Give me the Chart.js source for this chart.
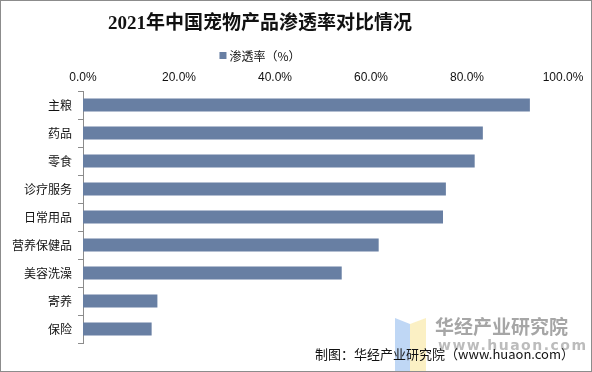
<!DOCTYPE html>
<html>
<head>
<meta charset="utf-8">
<style>
    html, body { margin: 0; padding: 0; background: #fff; }
    #wrap { width: 592px; height: 372px; position: relative; }
</style>
<script src="https://cdn.jsdelivr.net/npm/chart.js@4/dist/chart.umd.min.js"></script>
</head>
<body>
<div id="wrap"><canvas id="penetrationChart" width="592" height="372"></canvas></div>
<script>
// Chart data
const categories = ['主粮', '药品', '零食', '诊疗服务', '日常用品', '营养保健品', '美容洗澡', '寄养', '保险'];
const penetration = [93.1, 83.3, 81.6, 75.6, 75.0, 61.6, 53.9, 15.5, 14.3];
const xTicks = [0, 20, 40, 60, 80, 100];

const titleText = '2021年中国宠物产品渗透率对比情况';
const seriesLabel = '渗透率（%）';
const sourceText = '制图：华经产业研究院（www.huaon.com）';

const barColor = '#687fa3';
const cjkFont = '"Noto Sans CJK SC", "Liberation Sans", sans-serif';

// Title, legend, source, watermark and frame drawn onto the canvas
const decorPlugin = {
    id: 'decor',
    afterDatasetsDraw(chart) {
        const ctx = chart.ctx;
        ctx.save();

        // watermark logo
        ctx.globalAlpha = 0.75;
        ctx.fillStyle = '#a9c9f2';
        ctx.beginPath();
        ctx.moveTo(395, 318); ctx.lineTo(410, 324); ctx.lineTo(410, 372); ctx.lineTo(395, 372);
        ctx.closePath(); ctx.fill();
        ctx.fillStyle = '#f9ebb0';
        ctx.beginPath();
        ctx.moveTo(410, 324); ctx.lineTo(426, 318); ctx.lineTo(426, 372); ctx.lineTo(410, 372);
        ctx.closePath(); ctx.fill();

        // watermark text
        ctx.globalAlpha = 1;
        ctx.fillStyle = '#a6a6a6';
        ctx.textAlign = 'left';
        ctx.textBaseline = 'middle';
        ctx.font = 'bold 19px ' + cjkFont;
        ctx.fillText('华经产业研究院', 435, 327);
        ctx.font = 'bold 14px "DejaVu Sans", sans-serif';
        ctx.fillStyle = '#bcbcbc';
        ctx.letterSpacing = '1.5px';
        ctx.fillText('www.huaon.com', 438, 346);
        ctx.letterSpacing = '0px';

        // source
        ctx.fillStyle = '#111';
        ctx.font = '13px ' + cjkFont;
        ctx.textAlign = 'right';
        ctx.fillText(sourceText, 574, 354);

        // title
        ctx.textAlign = 'center';
        ctx.font = 'bold 19px "Liberation Serif", "Noto Sans CJK SC", serif';
        ctx.fillStyle = '#111';
        ctx.fillText(titleText, 260, 24);

        // legend
        ctx.font = '12px ' + cjkFont;
        ctx.textAlign = 'left';
        const w = ctx.measureText(seriesLabel).width;
        const lx = 260 - (w + 10) / 2;
        ctx.fillStyle = chart.data.datasets[0].backgroundColor;
        ctx.fillRect(lx, 52, 7, 7);
        ctx.fillStyle = '#111';
        ctx.fillText(seriesLabel, lx + 10, 56);

        // frame
        ctx.strokeStyle = '#8c8c8c';
        ctx.lineWidth = 1;
        ctx.strokeRect(0.5, 0.5, 591, 371);
        ctx.restore();
    }
};

new Chart(document.getElementById('penetrationChart'), {
    type: 'bar',
    data: {
        labels: categories,
        datasets: [{
            label: seriesLabel,
            data: penetration,
            backgroundColor: barColor,
            borderWidth: 0,
            barPercentage: 0.47,
            categoryPercentage: 1
        }]
    },
    options: {
        indexAxis: 'y',
        responsive: false,
        animation: false,
        layout: {
            padding: { top: 71, right: 29, bottom: 29, left: 0 }
        },
        plugins: {
            legend: { display: false },
            title: { display: false },
            tooltip: { enabled: false }
        },
        scales: {
            x: {
                position: 'top',
                min: 0,
                max: 100,
                afterBuildTicks(scale) {
                    scale.ticks = xTicks.map(v => ({ value: v }));
                },
                afterFit(scale) {
                    scale.height = 20;
                },
                grid: { display: false, drawTicks: false },
                border: { display: false },
                ticks: {
                    padding: 6,
                    color: '#111',
                    font: { size: 12, family: '"Liberation Sans", sans-serif' },
                    callback: v => v.toFixed(1) + '%'
                }
            },
            y: {
                afterFit(scale) {
                    scale.width = 83;
                },
                grid: {
                    drawOnChartArea: false,
                    offset: true,
                    tickLength: 5,
                    color: '#8c8c8c'
                },
                border: { color: '#8c8c8c' },
                ticks: {
                    padding: 6,
                    color: '#111',
                    font: { size: 12, family: cjkFont }
                }
            }
        }
    },
    plugins: [decorPlugin]
});
</script>
</body>
</html>
